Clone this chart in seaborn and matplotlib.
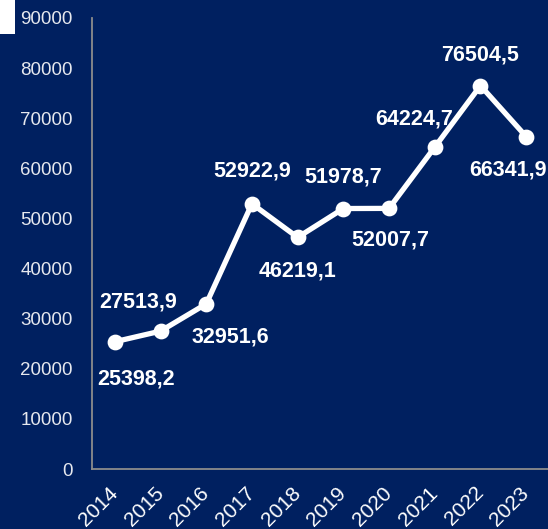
import matplotlib
matplotlib.use("Agg")
import matplotlib.pyplot as plt
from matplotlib.patches import Rectangle
import seaborn as sns
import numpy as np

years = ["2014", "2015", "2016", "2017", "2018", "2019", "2020", "2021", "2022", "2023"]
values = [25398.2, 27513.9, 32951.6, 52922.9, 46219.1, 51978.7, 52007.7, 64224.7, 76504.5, 66341.9]
y_ticks = [0, 10000, 20000, 30000, 40000, 50000, 60000, 70000, 80000, 90000]

# label offsets in pixels relative to each point (dx, dy)
label_offsets = [(21, -37), (-22, 29), (24, -33), (0, 33), (0, -34), (0, 32), (1, -32), (-21, 28), (0, 31), (-18, -33)]

bg = "#002060"
sns.set_theme(style="white")
plt.rcParams["font.family"] = ["Liberation Sans", "DejaVu Sans"]

fig = plt.figure(figsize=(5.48, 5.29), dpi=100, facecolor=bg)
ax = fig.add_axes([92 / 548, 1 - 469 / 529, 457 / 548, 451 / 529])
ax.set_facecolor(bg)

sns.pointplot(x=years, y=values, color="white", markers="o", markersize=8.5,
              linewidth=3.8, ax=ax)

n = len(years)
ax.set_xlim(-0.5, n - 0.5)
ax.set_ylim(0, 90000)
ax.set_yticks(y_ticks)
ax.set_yticklabels([str(t) for t in y_ticks], fontsize=13.5, color="#E6E8EE")

# category boundaries carry the tick marks, names sit at the centres
ax.set_xticks(np.arange(-0.5, n - 0.5 + 0.01, 1.0))
ax.set_xticklabels([])
ax.set_xticks(np.arange(n), minor=True)
ax.set_xticklabels(years, minor=True, rotation=45, ha="right", va="center",
                   rotation_mode="anchor", fontsize=15, color="white")
ax.tick_params(axis="x", which="major", length=5, width=1.2, color="#8C8C8C", direction="out")
ax.tick_params(axis="x", which="minor", length=0, pad=15)
ax.tick_params(axis="y", length=5, width=1.2, color="#8C8C8C", direction="out", pad=9)
ax.set_xlabel("")
ax.set_ylabel("")

for side in ["top", "right"]:
    ax.spines[side].set_visible(False)
for side in ["left", "bottom"]:
    ax.spines[side].set_color("#8C8C8C")
    ax.spines[side].set_linewidth(1.3)

for i, (v, (dx, dy)) in enumerate(zip(values, label_offsets)):
    txt = f"{v:.1f}".replace(".", ",")
    ax.annotate(txt, (i, v), xytext=(dx, dy), textcoords="offset pixels",
                ha="center", va="center", fontsize=15.5, fontweight="bold",
                color="white", annotation_clip=False)

fig.patches.append(Rectangle((0, 1 - 34 / 529), 15 / 548, 34 / 529,
                             transform=fig.transFigure, facecolor="white",
                             edgecolor="none", zorder=5))

fig.savefig("out.png", dpi=100, facecolor=bg)
